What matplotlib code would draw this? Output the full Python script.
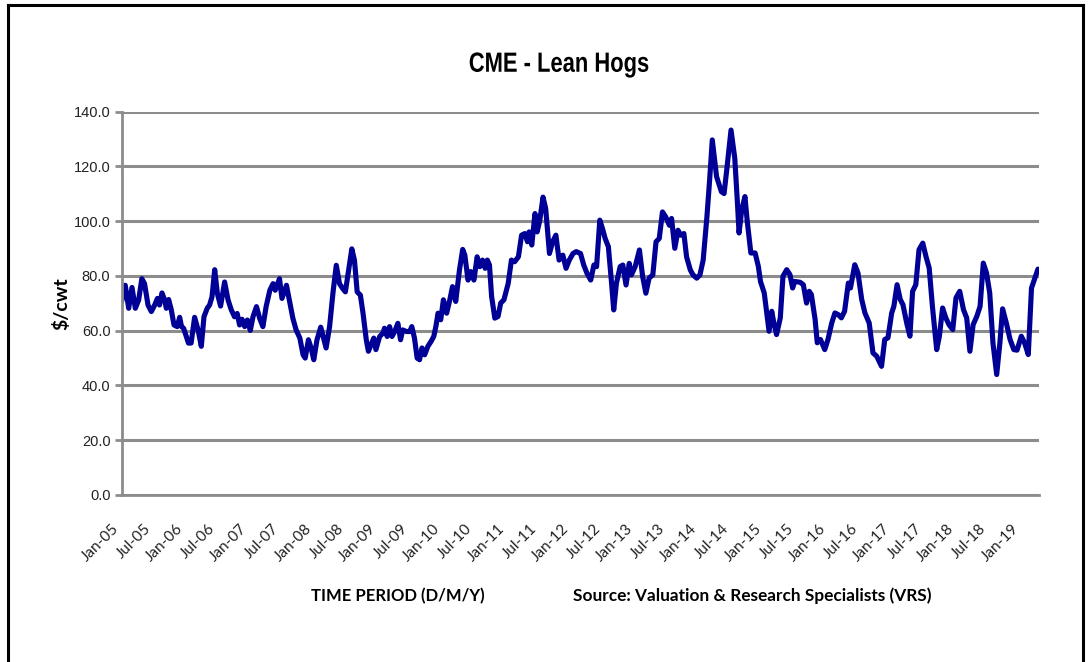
import matplotlib
matplotlib.use("Agg")
import matplotlib.pyplot as plt
from matplotlib.lines import Line2D
from matplotlib.textpath import TextPath
from matplotlib.font_manager import FontProperties
from matplotlib.patches import PathPatch
from matplotlib.transforms import Affine2D

# months since Jan-05 and price in $/cwt
month_pos = [
    0.0, 0.7, 1.34, 1.96, 2.58, 3.2, 3.8, 4.3, 4.95, 5.57, 6.2, 6.7, 7.1, 7.56, 8.06, 8.37, 8.8, 9.3, 9.8,
    10.4, 10.86, 11.2, 11.6, 12.1, 12.5, 13.0, 13.65, 14.3, 14.9, 15.4, 16.0, 16.45, 16.9, 17.4, 17.9,
    18.5, 19.25, 19.9, 20.5, 21.1, 21.6, 22.05, 22.5, 23.0, 23.5, 24.05, 24.55, 25.2, 25.8, 26.4, 27.0,
    27.7, 28.3, 28.7, 29.5, 29.96, 30.8, 31.4, 32.0, 32.6, 33.3, 33.9, 34.3, 34.9, 35.4, 35.9, 36.5,
    37.2, 37.8, 38.2, 38.85, 39.5, 40.1, 40.7, 41.3, 41.8, 42.3, 43.0, 43.5, 44.0, 44.6, 45.1, 45.7,
    46.1, 46.6, 47.1, 47.5, 48.2, 48.8, 49.1, 49.6, 50.05, 50.5, 51.0, 51.6, 52.1, 52.5, 53.2, 53.8,
    54.2, 54.7, 55.2, 55.65, 56.1, 56.6, 57.2, 57.8, 58.3, 58.7, 59.1, 59.6, 60.1, 60.7, 61.3, 61.8,
    62.4, 63.1, 63.7, 64.1, 64.7, 65.2, 65.8, 66.4, 66.9, 67.4, 67.9, 68.3, 68.7, 69.1, 69.7, 70.3,
    70.8, 71.4, 72.2, 72.8, 73.4, 74.1, 74.7, 75.3, 75.8, 76.1, 76.6, 77.2, 77.6, 78.1, 78.7, 79.2,
    79.9, 80.5, 81.1, 81.7, 82.4, 83.0, 83.6, 84.3, 84.9, 85.7, 86.3, 86.9, 87.6, 88.2, 88.7, 89.3,
    89.8, 90.3, 90.9, 91.5, 91.9, 92.4, 93.1, 93.6, 94.2, 94.8, 95.2, 95.9, 96.7, 97.3, 97.9, 98.5,
    99.2, 99.8, 100.4, 101.0, 101.6, 102.3, 102.7, 103.3, 103.9, 104.4, 105.0, 105.5, 106.2, 106.7,
    107.4, 108.0, 108.6, 109.3, 109.8, 110.3, 111.1, 112.0, 112.5, 113.0, 113.8, 114.5, 115.0, 115.3,
    115.8, 116.4, 116.8, 117.5, 118.3, 118.9, 119.3, 120.0, 120.4, 120.9, 121.4, 121.8, 122.3, 123.0,
    123.5, 124.2, 124.8, 125.3, 125.7, 126.7, 127.3, 127.9, 128.4, 128.8, 129.5, 129.9, 130.5, 131.3,
    131.9, 132.6, 133.2, 133.8, 134.4, 135.0, 135.7, 136.1, 136.9, 137.5, 138.2, 138.8, 139.6, 140.3,
    141.0, 141.9, 142.5, 143.1, 143.8, 144.2, 144.8, 145.4, 145.9, 146.6, 147.2, 147.7, 148.3, 148.9,
    149.6, 150.2, 150.8, 151.4, 152.2, 152.7, 153.3, 153.9, 154.5, 155.2, 155.8, 156.5, 157.2, 157.8,
    158.4, 159.0, 159.7, 160.3, 160.9, 161.5, 162.1, 162.7, 163.4, 164.0, 164.5, 165.2, 165.9, 166.6,
    167.2, 168.0, 168.6, 169.3, 169.9, 171.1,
]
price = [
    70.5, 76.6, 68.2, 75.8, 68.2, 71.2, 79.0, 77.2, 69.4, 67.0, 69.4, 71.8, 69.4, 73.8, 71.2, 68.2, 71.4, 67.6, 62.1,
    61.5, 64.9, 61.5, 60.9, 57.9, 55.5, 55.5, 64.9, 60.3, 54.3, 65.1, 68.2, 69.4, 72.4, 82.3, 73.6,
    69.0, 77.8, 71.2, 67.6, 65.1, 66.3, 62.1, 64.2, 61.5, 63.9, 60.1, 65.1, 68.8, 64.5, 61.5, 68.8,
    74.8, 77.2, 74.8, 79.0, 71.8, 76.6, 70.6, 64.5, 60.3, 57.3, 51.2, 50.0, 56.7, 53.7, 49.4, 56.7,
    61.3, 56.7, 53.7, 61.5, 74.2, 83.9, 77.2, 75.4, 74.2, 80.8, 89.9, 85.7, 74.2, 73.0, 66.3, 56.7,
    52.5, 54.9, 57.3, 53.1, 57.9, 59.1, 60.9, 57.9, 61.5, 57.9, 59.7, 62.7, 56.7, 60.3, 59.7, 59.7,
    61.5, 57.3, 50.0, 49.4, 53.7, 51.2, 54.3, 56.1, 57.9, 61.6, 66.4, 64.0, 71.3, 66.4, 71.3, 76.1,
    70.7, 82.2, 89.7, 87.6, 78.5, 81.6, 78.5, 87.0, 83.4, 85.8, 82.8, 85.8, 84.0, 72.5, 64.6, 65.2,
    70.1, 71.3, 77.3, 85.8, 85.2, 87.0, 94.9, 95.5, 92.5, 96.1, 91.3, 102.8, 96.1, 100.4, 108.8, 104.6,
    88.2, 92.5, 94.9, 85.8, 87.6, 82.8, 85.8, 88.2, 88.9, 88.2, 84.0, 81.0, 78.5, 84.0, 83.4, 100.4,
    97.3, 93.7, 90.7, 77.3, 67.6, 77.3, 83.4, 84.0, 76.7, 84.6, 80.4, 83.4, 89.5, 79.8, 73.7, 79.2,
    80.4, 92.5, 93.7, 103.4, 101.6, 98.5, 101.0, 90.1, 96.7, 94.9, 95.5, 87.0, 82.2, 80.4,
    79.2, 80.4, 85.8, 101.6, 114.9, 129.7, 116.3, 110.8, 110.1, 118.7, 133.3, 123.0, 106.6, 95.7,
    104.2, 109.0, 100.5, 88.4, 88.4, 83.5, 78.0, 73.8, 67.7, 59.8, 67.1, 62.8, 58.6, 64.7,
    79.9, 82.3, 80.5, 75.6, 78.0, 77.7, 76.8, 70.1, 74.4, 73.2, 64.1, 55.6, 56.8, 53.1,
    56.8, 62.8, 66.5, 65.9, 64.7, 67.1, 77.4, 75.6, 84.1, 81.1, 71.4, 66.5, 62.8, 51.9,
    50.7, 47.0, 56.8, 57.4, 66.5, 68.9, 76.8, 71.4, 69.5, 62.8, 58.0, 74.4, 76.8, 89.6,
    92.0, 87.1, 82.9, 68.9, 53.1, 58.0, 68.3, 64.7, 62.2, 60.4, 72.0, 74.4, 67.7, 64.7,
    52.5, 62.2, 65.3, 68.9, 84.7, 81.1, 73.8, 55.6, 44.0, 55.6, 68.0, 62.8, 56.8, 53.1,
    52.9, 58.0, 55.6, 51.3, 75.6, 82.5,
]
tick_labels = [
    "Jan-05", "Jul-05", "Jan-06", "Jul-06", "Jan-07", "Jul-07", "Jan-08", "Jul-08",
    "Jan-09", "Jul-09", "Jan-10", "Jul-10", "Jan-11", "Jul-11", "Jan-12", "Jul-12",
    "Jan-13", "Jul-13", "Jan-14", "Jul-14", "Jan-15", "Jul-15", "Jan-16", "Jul-16",
    "Jan-17", "Jul-17", "Jan-18", "Jul-18", "Jan-19",
]
y_ticks = [0, 20, 40, 60, 80, 100, 120, 140]

BODY = ["Lato", "DejaVu Sans"]
GRID = "#8c8c8c"
W, H = 1091, 662

fig = plt.figure(figsize=(W / 100, H / 100), dpi=100)
ax = fig.add_axes([121.5 / W, 1 - 495 / H, (1039 - 121.5) / W, (495 - 111.7) / H])

ax.plot(month_pos, price, color="#000096", lw=3.7, solid_joinstyle="round", solid_capstyle="round")

ax.set_xlim(0, 171.3)
ax.set_ylim(0, 140)
ax.set_yticks(y_ticks)
ax.set_yticklabels([f"{v:.1f}" for v in y_ticks], fontfamily="Liberation Sans", fontsize=10.5,
                   color="#222222")
ax.set_xticks([6 * i for i in range(len(tick_labels))])
ax.set_xticklabels(tick_labels, rotation=45, ha="right", fontfamily=BODY, fontsize=11, color="#222222")

ax.yaxis.grid(True, color=GRID, lw=2.2)
ax.set_axisbelow(True)
for side in ("top", "right"):
    ax.spines[side].set_visible(False)
for side in ("left", "bottom"):
    ax.spines[side].set_color(GRID)
    ax.spines[side].set_linewidth(2)
ax.tick_params(axis="y", length=5, width=2, color=GRID, pad=3)
ax.tick_params(axis="x", length=0, pad=19)

ax.set_ylabel("$/cwt", fontfamily=BODY, fontweight="bold", fontsize=14, labelpad=2)

# title in a condensed bold face: squeeze the glyph outlines horizontally
title = TextPath((0, 0), "CME - Lean Hogs", size=20 * 100 / 72,
                 prop=FontProperties(family="Liberation Sans", weight="bold"))
tb = title.get_extents()
title_tf = (Affine2D().translate(-(tb.x0 + tb.width / 2), -(tb.y0 + tb.height / 2))
            .scale(0.79, 1.0).translate(559, H - 65))
fig.add_artist(PathPatch(title, transform=title_tf, facecolor="black", edgecolor="none"))

fig.text(398 / W, 1 - 596 / H, "TIME PERIOD (D/M/Y)", ha="center", va="center",
         fontfamily=BODY, fontweight="bold", fontsize=12)
fig.text(752 / W, 1 - 596 / H, "Source: Valuation & Research Specialists (VRS)", ha="center",
         va="center", fontfamily=BODY, fontweight="bold", fontsize=12.4)

# outer frame (left, top, right)
for xs, ys in (([8, 8], [5, H]), ([8, 1083], [5, 5]), ([1083, 1083], [5, H])):
    fig.add_artist(Line2D([x / W for x in xs], [1 - y / H for y in ys], color="black", lw=2.2))

fig.savefig("out.png", dpi=100)
